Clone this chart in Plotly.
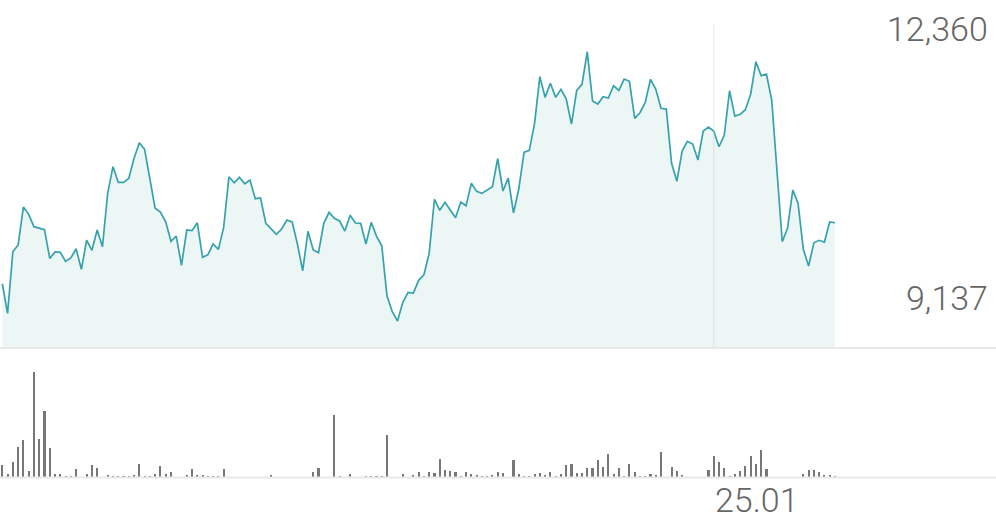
import plotly.graph_objects as go

# ---- data ----
price = [
    9583, 9229, 9966, 10047, 10501, 10414, 10266, 10246, 10230, 9887,
    9963, 9959, 9851, 9891, 10002, 9756, 10106, 9983, 10226, 10026,
    10669, 10984, 10797, 10797, 10845, 11084, 11271, 11192, 10824, 10486,
    10441, 10325, 10091, 10154, 9804, 10226, 10218, 10313, 9899, 9930,
    10059, 9995, 10254, 10864, 10792, 10857, 10780, 10824, 10601, 10609,
    10306, 10242, 10175, 10238, 10346, 10322, 10059, 9739, 10211, 9987,
    9954, 10306, 10438, 10366, 10334, 10214, 10402, 10310, 10306, 10059,
    10318, 10154, 10038, 9436, 9248, 9137, 9361, 9480, 9472, 9624,
    9691, 9947, 10594, 10462, 10558, 10465, 10373, 10561, 10517, 10785,
    10689, 10665, 10705, 10744, 11079, 10693, 10848, 10430, 10717, 11156,
    11180, 11503, 12061, 11814, 11982, 11814, 11910, 11797, 11495, 11898,
    11970, 12360, 11770, 11734, 11821, 11806, 11953, 11898, 12033, 12006,
    11563, 11630, 11754, 12030, 11910, 11683, 11674, 11024, 10809, 11172,
    11288, 11255, 11064, 11411, 11459, 11411, 11223, 11363, 11893, 11590,
    11611, 11666, 11850, 12240, 12073, 12093, 11782, 10944, 10086, 10246,
    10705, 10546, 9995, 9795, 10074, 10103, 10082, 10322, 10313,
]

volume_k = [
    12, 3.3, 15.3, 30.3, 37.3, 6, 104.7, 38.3, 66.3, 29.3,
    2.7, 3.3, 1.3, 0.7, 8.3, 0.3, 2.7, 12.3, 9.3, 0.3,
    2.3, 1.3, 0.7, 0.7, 1.3, 1.7, 13.3, 1.3, 1.3, 3.3,
    11.3, 2.7, 4.7, 0.3, 0.3, 1.7, 8, 1.7, 1.7, 1.3,
    1.3, 0.7, 8.3, 0.3, 0.3, 0.3, 0.3, 0.3, 0.3, 0.3,
    0.3, 2.3, 0.3, 0.3, 0.3, 0.3, 0.3, 0.3, 0.3, 5.3,
    8.7, 0.3, 0.3, 62.3, 0.7, 0.3, 2.7, 0.3, 0.3, 0.7,
    0.7, 0.7, 1.3, 42.3, 0.3, 0.3, 3.3, 0.3, 2.3, 4.7,
    1.3, 4.7, 4.3, 18.3, 6.7, 5.7, 4.7, 1.3, 4.7, 2.7,
    1.7, 1, 0.7, 1.7, 5.3, 3.7, 0.3, 16.7, 3, 0.7,
    1.3, 2.7, 4.3, 1.7, 5.3, 1.3, 3.3, 12.3, 13, 3.7,
    3.7, 9.3, 9.3, 16.7, 10, 22.7, 3, 8.7, 1.3, 12.7,
    4.7, 0.7, 0.7, 2.7, 2, 24.7, 0.5, 10.3, 6, 1.7,
    0.5, 0.5, 0.5, 0.5, 6.7, 20.7, 15, 9.3, 0.7, 3.3,
    6, 11, 20.7, 12.7, 27.3, 8, 0.5, 0.5, 0.5, 0.5,
    0.5, 0.5, 2.7, 6.7, 6.7, 4.7, 1.7, 2.3, 0.7,
]

days = list(range(len(price)))
marker_day = 135
marker_label = "25.01"
max_label = "12,360"
min_label = "9,137"

# ---- layout helpers (pixel -> paper) ----
W, H = 996, 519
def py(px):
    return 1 - px / H

LINE = "#36a2ad"
FILL = "#ecf6f4"
TEXT = "#666666"
FONT = "Roboto Light, Roboto, sans-serif"

fig = go.Figure()
fig.add_trace(go.Scatter(
    x=days, y=price, mode="lines",
    line=dict(color=LINE, width=1.7),
    fill="tozeroy", fillcolor=FILL,
    hoverinfo="skip", showlegend=False,
    xaxis="x", yaxis="y",
))
fig.add_trace(go.Bar(
    x=days, y=volume_k, width=0.4,
    marker=dict(color="#777777", line=dict(width=0)),
    hoverinfo="skip", showlegend=False,
    xaxis="x", yaxis="y2",
))

fig.update_layout(
    width=W, height=H,
    margin=dict(l=0, r=0, t=0, b=0),
    paper_bgcolor="white", plot_bgcolor="white",
    bargap=0,
    xaxis=dict(range=[-0.44, 188.56], visible=False, fixedrange=True),
    yaxis=dict(domain=[py(347), py(24)], range=[8826, 12692],
               visible=False, fixedrange=True),
    yaxis2=dict(domain=[py(477), py(372)], range=[0, 104.7],
                visible=False, fixedrange=True),
    shapes=[
        dict(type="line", xref="x", yref="paper", x0=marker_day, x1=marker_day,
             y0=py(347), y1=py(24), line=dict(color="rgba(200,210,210,0.35)", width=1.5),
             layer="above"),
        dict(type="line", xref="paper", yref="paper", x0=0, x1=1,
             y0=py(348), y1=py(348), line=dict(color="#e8e8e8", width=2)),
        dict(type="line", xref="paper", yref="paper", x0=0, x1=1,
             y0=py(477.5), y1=py(477.5), line=dict(color="#e8e8e8", width=2)),
    ],
    annotations=[
        dict(text=max_label, xref="paper", yref="paper", x=1, y=py(29),
             xanchor="right", yanchor="middle", xshift=-6, showarrow=False,
             font=dict(family=FONT, size=34, color=TEXT, weight=300)),
        dict(text=min_label, xref="paper", yref="paper", x=1, y=py(298),
             xanchor="right", yanchor="middle", xshift=-6, showarrow=False,
             font=dict(family=FONT, size=34, color=TEXT, weight=300)),
        dict(text=marker_label, xref="x", yref="paper", x=marker_day, y=py(500),
             xanchor="left", yanchor="middle", xshift=-1, showarrow=False,
             font=dict(family=FONT, size=34, color=TEXT, weight=300)),
    ],
)

fig.write_html(
    "out.html",
    config={"displayModeBar": False, "staticPlot": True},
    post_script="document.body.style.margin='0';document.body.style.overflow='hidden';",
)
